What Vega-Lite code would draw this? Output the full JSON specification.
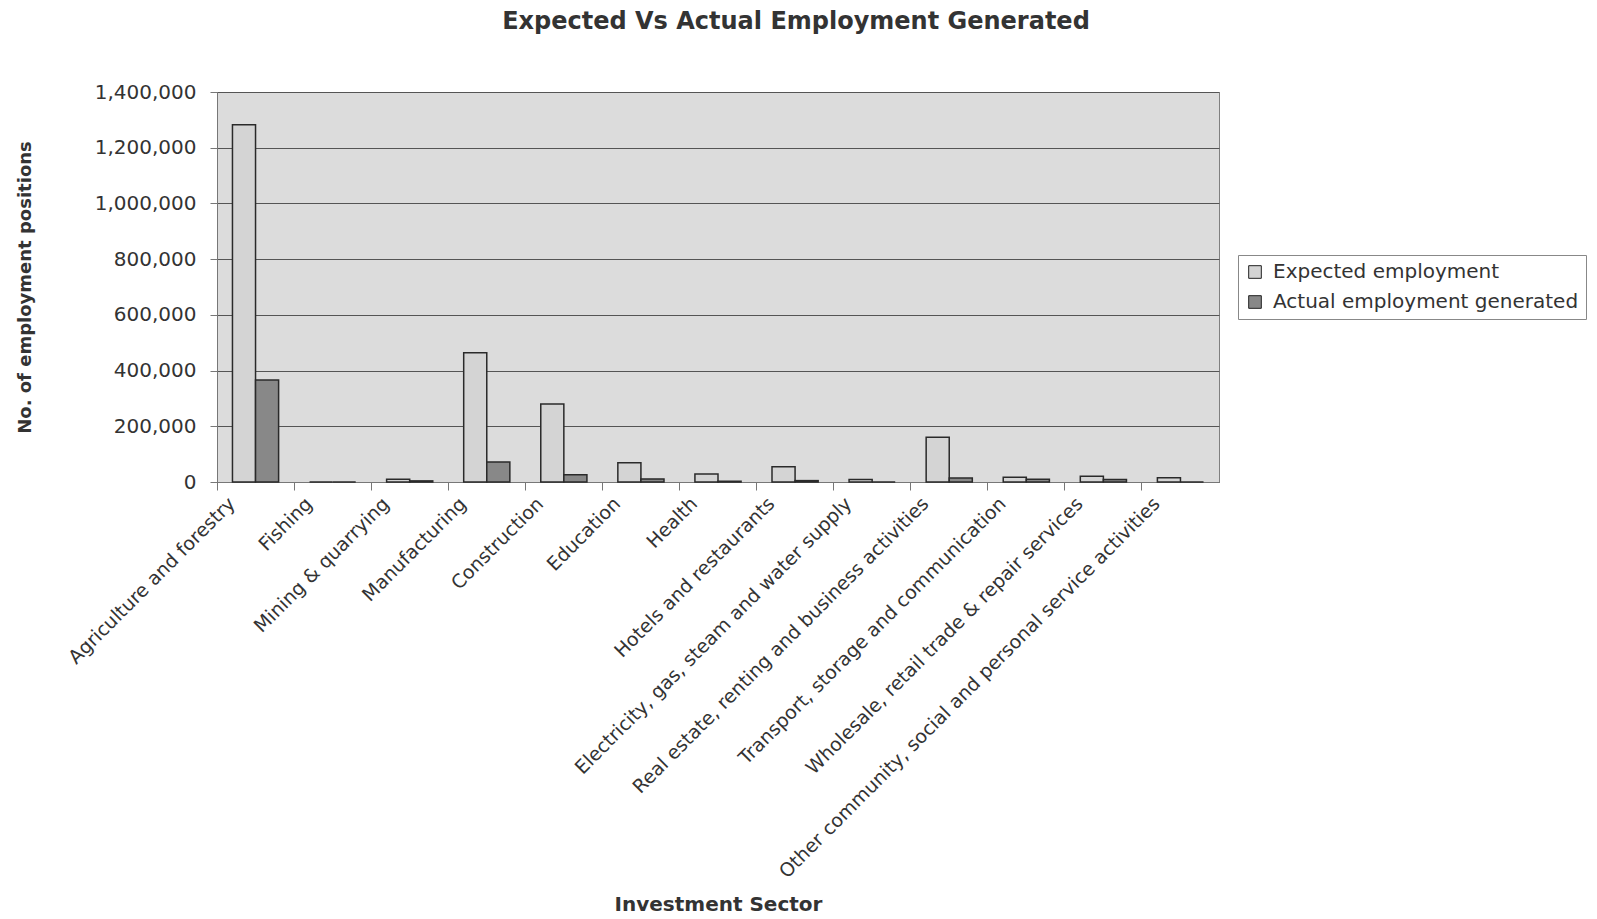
{
  "$schema": "https://vega.github.io/schema/vega-lite/v6.json",
  "autosize": {"type": "none"},
  "width": 1002,
  "height": 390,
  "padding": {"left": 217, "top": 92, "right": 378, "bottom": 437},
  "background": "white",
  "config": {
    "font": "DejaVu Sans",
    "view": {"fill": "#dcdcdc", "stroke": "#808080", "strokeWidth": 1}
  },
  "title": {
    "text": "Expected Vs Actual Employment Generated",
    "fontSize": 24,
    "fontWeight": "bold",
    "color": "#333333",
    "anchor": "middle",
    "frame": "group",
    "dx": 78,
    "offset": 48
  },
  "data": {
    "values": [
      {"sector": "Agriculture and forestry", "series": "Expected employment", "value": 1282000},
      {"sector": "Agriculture and forestry", "series": "Actual employment generated", "value": 366000},
      {"sector": "Fishing", "series": "Expected employment", "value": 0},
      {"sector": "Fishing", "series": "Actual employment generated", "value": 0},
      {"sector": "Mining & quarrying", "series": "Expected employment", "value": 9500},
      {"sector": "Mining & quarrying", "series": "Actual employment generated", "value": 4000},
      {"sector": "Manufacturing", "series": "Expected employment", "value": 464000},
      {"sector": "Manufacturing", "series": "Actual employment generated", "value": 72000},
      {"sector": "Construction", "series": "Expected employment", "value": 280000},
      {"sector": "Construction", "series": "Actual employment generated", "value": 26000},
      {"sector": "Education", "series": "Expected employment", "value": 69000},
      {"sector": "Education", "series": "Actual employment generated", "value": 11000},
      {"sector": "Health", "series": "Expected employment", "value": 28700},
      {"sector": "Health", "series": "Actual employment generated", "value": 3000},
      {"sector": "Hotels and restaurants", "series": "Expected employment", "value": 55000},
      {"sector": "Hotels and restaurants", "series": "Actual employment generated", "value": 5000},
      {"sector": "Electricity, gas, steam and water supply", "series": "Expected employment", "value": 9000},
      {"sector": "Electricity, gas, steam and water supply", "series": "Actual employment generated", "value": 0},
      {"sector": "Real estate, renting and business activities", "series": "Expected employment", "value": 160500},
      {"sector": "Real estate, renting and business activities", "series": "Actual employment generated", "value": 14000},
      {"sector": "Transport, storage and communication", "series": "Expected employment", "value": 17000},
      {"sector": "Transport, storage and communication", "series": "Actual employment generated", "value": 10000},
      {"sector": "Wholesale, retail trade & repair services", "series": "Expected employment", "value": 21000},
      {"sector": "Wholesale, retail trade & repair services", "series": "Actual employment generated", "value": 9000},
      {"sector": "Other community, social and personal service activities", "series": "Expected employment", "value": 15000},
      {"sector": "Other community, social and personal service activities", "series": "Actual employment generated", "value": 0}
    ]
  },
  "mark": {"type": "bar", "stroke": "#2a2a2a", "strokeWidth": 1.5},
  "encoding": {
    "x": {
      "field": "sector",
      "type": "nominal",
      "sort": null,
      "scale": {"paddingInner": 0, "paddingOuter": 0},
      "axis": {
        "title": "Investment Sector",
        "titleFontSize": 20,
        "titleFontWeight": "bold",
        "titleColor": "#333333",
        "titleX": 501,
        "titleY": 422,
        "titleAlign": "center",
        "titleBaseline": "middle",
        "bandPosition": 0,
        "labelAngle": -45,
        "labelAlign": "right",
        "labelBaseline": "top",
        "labelOffset": -30,
        "labelFontSize": 19,
        "labelColor": "#333333",
        "labelPadding": 4,
        "labelLimit": 600,
        "labelOverlap": false,
        "tickSize": 8,
        "tickColor": "#777777",
        "domainColor": "#777777",
        "grid": false
      }
    },
    "xOffset": {
      "field": "series",
      "type": "nominal",
      "sort": ["Expected employment", "Actual employment generated"],
      "scale": {"paddingInner": 0, "paddingOuter": 0.67}
    },
    "y": {
      "field": "value",
      "type": "quantitative",
      "scale": {"domain": [0, 1400000], "nice": false},
      "axis": {
        "title": "No. of employment positions",
        "titleFontSize": 18,
        "titleFontWeight": "bold",
        "titleColor": "#333333",
        "titleX": -192,
        "titleY": 195,
        "titleAngle": -90,
        "titleAlign": "center",
        "titleBaseline": "middle",
        "values": [0, 200000, 400000, 600000, 800000, 1000000, 1200000, 1400000],
        "format": ",d",
        "labelFontSize": 20,
        "labelColor": "#333333",
        "labelPadding": 14,
        "tickSize": 7,
        "tickColor": "#777777",
        "domainColor": "#777777",
        "grid": true,
        "gridColor": "#555555",
        "gridWidth": 1
      }
    },
    "color": {
      "field": "series",
      "type": "nominal",
      "sort": ["Expected employment", "Actual employment generated"],
      "scale": {
        "domain": ["Expected employment", "Actual employment generated"],
        "range": ["#d4d4d4", "#888888"]
      },
      "legend": {
        "orient": "none",
        "legendX": 1021,
        "legendY": 163,
        "title": null,
        "labelFontSize": 20,
        "labelColor": "#333333",
        "labelLimit": 500,
        "symbolType": "square",
        "symbolSize": 160,
        "symbolStrokeColor": "#222222",
        "symbolStrokeWidth": 1,
        "strokeColor": "#888888",
        "fillColor": "white",
        "padding": 7,
        "rowPadding": 10,
        "labelOffset": 8
      }
    }
  }
}
